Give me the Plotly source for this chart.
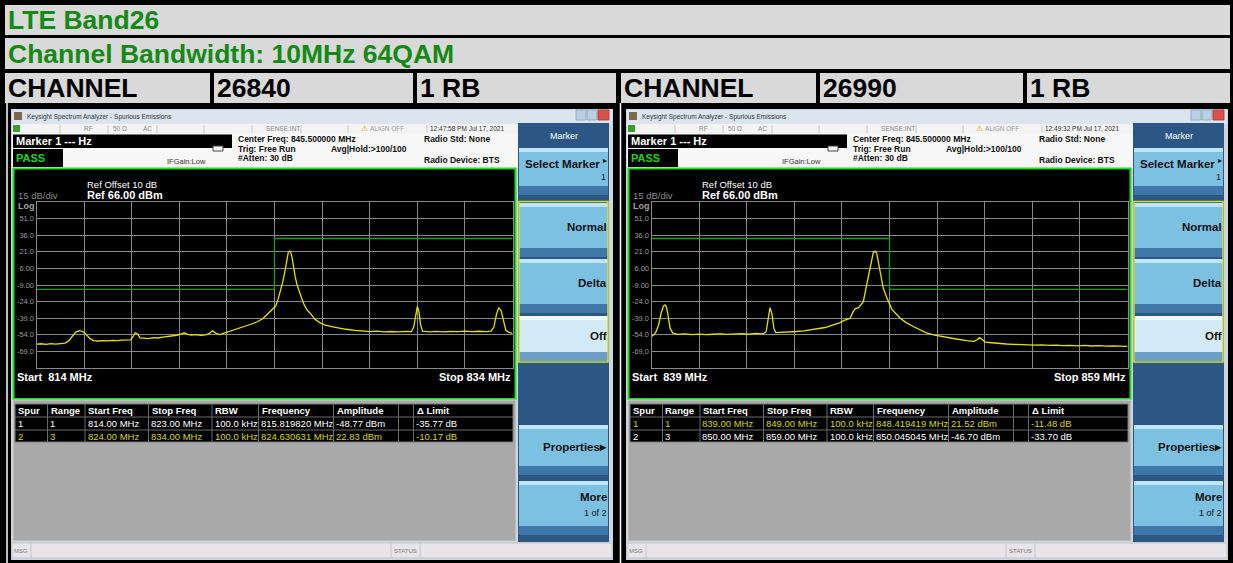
import plotly.graph_objects as go

# ---------------- data ----------------
title_text = "LTE Band26"
subtitle_text = "Channel Bandwidth: 10MHz 64QAM"
channel_label = "CHANNEL"
channels = ["26840", "26990"]
rb_label = "1 RB"
start_mhz = [814, 839]
stop_mhz = [834, 859]
timestamps = ["12:47:58 PM Jul 17, 2021", "12:49:32 PM Jul 17, 2021"]
center_freq_text = "Center Freq: 845.500000 MHz"
ref_level = 66
db_per_div = 15
ref_offset_db = 10
y_ticks = [51, 36, 21, 6, -9, -24, -39, -54, -69]
y_tick_labels = ["51.0", "36.0", "21.0", "6.00", "-9.00", "-24.0", "-39.0", "-54.0", "-69.0"]

left_freq = [814.0, 814.2, 814.4, 814.6, 814.8, 815.0, 815.2, 815.35, 815.5, 815.65, 815.8, 815.95,
             816.1, 816.25, 816.4, 816.6, 816.8, 817.0, 817.2, 817.4, 817.6, 817.8, 817.95, 818.05,
             818.15, 818.25, 818.35, 818.5, 818.7, 818.9, 819.1, 819.3, 819.5, 819.7, 819.9, 820.05,
             820.2, 820.35, 820.5, 820.7, 820.9, 821.1, 821.25, 821.4, 821.55, 821.7, 821.9, 822.1,
             822.3, 822.5, 822.7, 822.9, 823.1, 823.3, 823.5, 823.7, 823.9, 824.05, 824.15, 824.25,
             824.35, 824.45, 824.52, 824.58, 824.63, 824.68, 824.74, 824.8, 824.87, 824.93, 825.03,
             825.14, 825.25, 825.35, 825.5, 825.7, 825.9, 826.1, 826.4, 826.7, 827.0, 827.4, 827.7,
             828.0, 828.3, 828.6, 828.9, 829.2, 829.5, 829.75, 829.85, 829.93, 830.0, 830.07, 830.14,
             830.22, 830.5, 830.8, 831.1, 831.4, 831.7, 832.0, 832.3, 832.6, 832.9, 833.1, 833.22,
             833.32, 833.42, 833.52, 833.62, 833.72, 833.85, 834.0]
left_level = [-62.5, -62.1, -62.6, -62.0, -62.4, -61.8, -61.5, -59.5, -55.0, -51.5, -50.2, -51.0,
              -54.0, -57.5, -59.3, -59.6, -59.2, -59.5, -59.0, -59.3, -58.8, -59.0, -58.6, -56.0,
              -52.0, -53.5, -56.8, -57.0, -57.4, -56.6, -56.9, -56.2, -55.8, -55.2, -54.4, -53.5,
              -52.2, -53.6, -54.2, -53.8, -54.5, -54.0, -53.0, -50.5, -52.8, -53.8, -52.4, -50.8,
              -49.5, -48.3, -47.0, -45.5, -43.8, -42.0, -39.5, -35.5, -31.5, -28.0, -22.0, -15.0,
              -6.0, 5.0, 15.0, 20.5, 21.6, 20.8, 15.5, 6.0, -1.5, -7.5, -14.5,
              -21.0, -27.0, -31.0, -34.5, -40.0, -43.0, -45.0, -46.6, -48.0, -49.0, -50.0, -50.6,
              -51.2, -50.6, -51.4, -51.0, -51.3, -50.9, -51.2, -47.0, -36.0, -28.5, -33.0, -45.0,
              -50.8, -51.3, -50.9, -51.4, -51.0, -51.2, -50.7, -51.1, -50.8, -51.2, -50.6, -47.0,
              -36.0, -29.5, -32.0, -42.0, -50.0, -51.8, -52.5]

right_freq = [839.0, 839.1, 839.2, 839.3, 839.4, 839.5, 839.56, 839.63, 839.7, 839.78, 839.9, 840.1,
              840.4, 840.7, 841.0, 841.3, 841.6, 841.9, 842.2, 842.5, 842.8, 843.1, 843.4, 843.7,
              843.82, 843.9, 843.98, 844.06, 844.14, 844.22, 844.5, 844.8, 845.1, 845.4, 845.7,
              846.0, 846.3, 846.6, 846.9, 847.1, 847.35, 847.45, 847.55, 847.7, 847.9, 848.04,
              848.18, 848.32, 848.4, 848.46, 848.52, 848.6, 848.74, 848.88, 849.1, 849.45, 849.7,
              850.0, 850.3, 850.55, 850.9, 851.4, 851.8, 852.25, 852.55, 852.68, 852.78, 852.9,
              853.02, 853.3, 853.6, 853.9, 854.2, 854.5, 854.8, 855.1, 855.4, 855.7, 856.0, 856.3,
              856.6, 856.9, 857.2, 857.5, 857.8, 858.1, 858.4, 858.7, 859.0]
right_level = [-55.5, -54.0, -51.0, -45.0, -35.0, -28.0, -27.0, -29.0, -37.0, -48.0, -52.5, -53.6,
               -53.2, -53.8, -53.4, -53.9, -53.5, -53.1, -53.7, -53.3, -53.0, -53.5, -52.8, -53.1,
               -51.0, -40.0, -29.5, -35.0, -48.0, -52.0, -51.8, -51.4, -51.0, -50.4, -49.6,
               -48.8, -47.4, -45.3, -43.2, -41.0, -39.0, -34.0, -30.6, -29.4, -24.0, -9.0,
               6.0, 20.4, 21.6, 20.0, 13.0, 3.0, -12.0, -20.0, -31.0, -39.0, -43.0,
               -46.5, -49.8, -52.3, -54.2, -56.4, -57.8, -59.3, -60.0, -58.5, -56.6, -58.2,
               -60.6, -61.2, -61.9, -62.3, -62.6, -63.0, -62.8, -63.3, -63.1, -63.6, -63.4, -63.8,
               -63.5, -64.0, -63.6, -64.1, -63.8, -64.3, -64.0, -64.4, -64.5]

left_limit_freq = [814, 824, 824, 834]
left_limit_level = [-13, -13, 33, 33]
right_limit_freq = [839, 849, 849, 859]
right_limit_level = [33, 33, -13, -13]

table_header = ["Spur", "Range", "Start Freq", "Stop Freq", "RBW", "Frequency", "Amplitude", "", "\u0394 Limit"]
left_rows = [["1", "1", "814.00 MHz", "823.00 MHz", "100.0 kHz", "815.819820 MHz", "-48.77 dBm", "", "-35.77 dB"],
             ["2", "3", "824.00 MHz", "834.00 MHz", "100.0 kHz", "824.630631 MHz", "22.83 dBm", "", "-10.17 dB"]]
right_rows = [["1", "1", "839.00 MHz", "849.00 MHz", "100.0 kHz", "848.419419 MHz", "21.52 dBm", "", "-11.48 dB"],
              ["2", "3", "850.00 MHz", "859.00 MHz", "100.0 kHz", "850.045045 MHz", "-46.70 dBm", "", "-33.70 dB"]]
left_row_yellow = [False, True]
right_row_yellow = [True, False]

# ---------------- layout helpers ----------------
W, H = 1233, 563
FONT = "Liberation Sans, Arial, sans-serif"
shapes = []
annotations = []


def px(x):
    return x / W


def py(y):
    return 1 - y / H


def rect(x0, y0, x1, y1, fill, line=None, lw=0):
    shapes.append(dict(type="rect", xref="paper", yref="paper", layer="below",
                       x0=px(x0), x1=px(x1), y0=py(y1), y1=py(y0),
                       fillcolor=fill, line=dict(width=lw, color=line or fill)))


def hline(x0, x1, y, color, lw=1):
    shapes.append(dict(type="line", xref="paper", yref="paper", layer="below",
                       x0=px(x0), x1=px(x1), y0=py(y), y1=py(y), line=dict(width=lw, color=color)))


def vline(x, y0, y1, color, lw=1):
    shapes.append(dict(type="line", xref="paper", yref="paper", layer="below",
                       x0=px(x), x1=px(x), y0=py(y0), y1=py(y1), line=dict(width=lw, color=color)))


def text(x, y, s, size, color, bold=False, anchor="left", family=FONT):
    annotations.append(dict(xref="paper", yref="paper", x=px(x), y=py(y), text=("<b>%s</b>" % s) if bold else s,
                            showarrow=False, xanchor=anchor, yanchor="middle", borderpad=0,
                            font=dict(size=size, color=color, family=family)))


# ---------------- document table ----------------
GREY = "#d9d9d9"
GREEN_TXT = "#138a13"
HEAD = 26.5
rect(5, 5, 1230, 35, GREY)
rect(5, 38, 1230, 69, GREY)
text(7, 20, title_text, HEAD, GREEN_TXT, bold=True)
text(7, 54, subtitle_text, HEAD, GREEN_TXT, bold=True)
cells = [(5, 210), (214, 413), (417, 616), (621, 816), (820, 1023), (1027, 1230)]
cell_txt = [channel_label, channels[0], rb_label, channel_label, channels[1], rb_label]
for (a, b), t in zip(cells, cell_txt):
    rect(a, 73, b, 103, GREY)
    text(a + 2, 88.5, t, HEAD, "#000000", bold=True)
vline(7, 103, 563, "#ffffff", 1.5)
vline(620.5, 103, 563, "#ffffff", 1.5)

# ---------------- instrument screens ----------------
col_x = [15, 47.5, 85, 148.5, 212, 258.5, 333.5, 398.5, 413.5, 513]
soft = [("Select Marker", 148, 195, False), ("Normal", 203, 257, False), ("Delta", 259, 313, False),
        ("Off", 316, 361, True), ("Properties\u25b8", 425, 475, False), ("More", 481, 535, False)]

fig = go.Figure()


def screen(i, ox, freq, level, lim_f, lim_l, rows, yellow_rows):
    X = lambda v: v + ox
    # window
    rect(X(11), 109, X(613), 560, "#cfd6de")
    rect(X(12), 110, X(612), 124, "#dbe5ef")
    rect(X(14), 112, X(22), 120, "#7a6a4a")
    text(X(26), 117, "Keysight Spectrum Analyzer - Spurious Emissions", 6.5, "#333333")
    # window buttons
    rect(X(576), 110, X(586), 120, "#b9cfe4", "#8aa2bc", 0.8)
    rect(X(587), 110, X(597), 120, "#b9cfe4", "#8aa2bc", 0.8)
    rect(X(598), 110, X(609), 120, "#d9534a", "#a33", 0.8)
    # status row
    rect(X(12), 124, X(518), 134, "#f4f4f4")
    rect(X(13), 125, X(20), 132, "#3aa02a")
    for dx in [60, 108, 157, 204, 252, 301, 348, 427]:
        vline(X(dx), 125, 133, "#c8c8c8", 1)
    text(X(83), 129, "RF", 6.5, "#888888")
    text(X(112), 129, "50 \u03a9", 6.5, "#888888")
    text(X(142), 129, "AC", 6.5, "#888888")
    text(X(265), 129, "SENSE:INT", 6.5, "#888888")
    text(X(360), 129, "\u26a0", 8, "#c9a200", family="DejaVu Sans")
    text(X(369), 129, "ALIGN OFF", 6.5, "#999999")
    text(X(429), 129, timestamps[i], 6.5, "#333333")
    # info area
    rect(X(12), 134, X(518), 168, "#f7f7f7")
    rect(X(13), 134.5, X(232), 148, "#000000")
    text(X(15), 141, "Marker 1 --- Hz", 11, "#ffffff", bold=True)
    rect(X(13), 149, X(63), 167, "#000000")
    text(X(15), 158, "PASS", 11, "#19d419", bold=True)
    text(X(166), 161, "IFGain:Low", 7.5, "#333333")
    rect(X(213), 146, X(223), 151, "#f7f7f7", "#444444", 1)
    text(X(237), 139, center_freq_text, 8.5, "#111111", bold=True)
    text(X(237), 149, "Trig: Free Run", 8.5, "#111111", bold=True)
    text(X(237), 158.5, "#Atten: 30 dB", 8.5, "#111111", bold=True)
    text(X(330), 149, "Avg|Hold:>100/100", 8.5, "#111111", bold=True)
    text(X(423), 139, "Radio Std: None", 8.5, "#111111", bold=True)
    text(X(423), 160, "Radio Device: BTS", 8.5, "#111111", bold=True)
    # plot frame
    rect(X(13.5), 168.5, X(515.5), 399, "#000000", "#22dd22", 2)
    text(X(17), 196, "15 dB/div", 9.5, "#8a8a8a")
    text(X(86), 184, "Ref Offset %d dB" % ref_offset_db, 9.5, "#ffffff")
    text(X(86), 195, "Ref %.2f dBm" % ref_level, 11, "#ffffff", bold=True)
    text(X(17), 206, "Log", 9, "#a0a0a0", bold=True)
    text(X(16), 377, "Start\u00a0\u00a0%d MHz" % start_mhz[i], 11, "#ffffff", bold=True)
    text(X(512), 377, "Stop %d MHz" % stop_mhz[i], 11, "#ffffff", bold=True, anchor="right")
    # spur table
    rect(X(13), 400, X(516), 541, "#a9a9a9", "#cfcfcf", 1)
    rect(X(15), 404, X(513), 442, "#000000", "#7a7a7a", 1)
    hline(X(15), X(513), 417, "#6a6a6a")
    hline(X(15), X(513), 430, "#6a6a6a")
    for cx in col_x[1:-1]:
        vline(X(cx), 404, 442, "#6a6a6a")
    for c, h in enumerate(table_header):
        text(X(col_x[c] + 2), 410.5, h, 9.5, "#ffffff", bold=True)
    for r, row in enumerate(rows):
        colr = "#d6d600" if yellow_rows[r] else "#ffffff"
        for c, v in enumerate(row):
            text(X(col_x[c] + 1.5), 423.5 + 13 * r, v, 9.5, colr)
    # status bar
    rect(X(12), 543, X(612), 558, "#e7e5e9", "#c4c4c4", 1)
    vline(X(31), 543, 558, "#c4c4c4")
    vline(X(391), 543, 558, "#c4c4c4")
    vline(X(420), 543, 558, "#c4c4c4")
    text(X(13), 550.5, "MSG", 6, "#7a7a7a")
    text(X(393), 550.5, "STATUS", 6, "#7a7a7a")
    # softkey panel
    rect(X(518), 123, X(609), 542, "#2c5785")
    text(X(563.5), 136, "Marker", 9, "#ffffff", anchor="center")
    for lab, y0, y1, light in soft:
        body = "#d3ebf7" if light else "#7cc0e2"
        top = "#f0f9fd" if light else "#bfe4f5"
        bot = "#6d9fc6" if light else "#3f78a8"
        rect(X(519), y0, X(608), y1, body)
        rect(X(519), y0, X(608), y0 + 4, top)
        rect(X(519), y1 - 9, X(608), y1, bot)
        if lab == "Select Marker":
            text(X(600.5), 164, lab, 11.5, "#111111", bold=True, anchor="right")
            text(X(608), 160, "\u25b8", 8, "#111111", anchor="right", family="DejaVu Sans")
            text(X(606.5), 177, "1", 9, "#111111", anchor="right")
        elif lab == "More":
            text(X(607.5), 497, lab, 11.5, "#111111", bold=True, anchor="right")
            text(X(607.5), 513, "1 of 2", 9, "#111111", anchor="right")
        else:
            text(X(607.5), (y0 + y1) / 2 - 3, lab, 11.5, "#111111", bold=True, anchor="right")
    rect(X(519), 201.5, X(608), 362, "rgba(0,0,0,0)", "#d4df2c", 1.5)

    # axes / traces
    xa = "xaxis" if i == 0 else "xaxis2"
    ya = "yaxis" if i == 0 else "yaxis2"
    xr = "x" if i == 0 else "x2"
    yr = "y" if i == 0 else "y2"
    bottom = ref_level - 10 * db_per_div
    fig.add_trace(go.Scatter(x=lim_f, y=lim_l, mode="lines", xaxis=xr, yaxis=yr,
                             line=dict(color="#1aa01a", width=1.3), showlegend=False, hoverinfo="skip"))
    fig.add_trace(go.Scatter(x=freq, y=level, mode="lines", xaxis=xr, yaxis=yr,
                             line=dict(color="#e2e200", width=1.3), showlegend=False))
    grid = "#8a8a8a"
    fig.update_layout(**{
        xa: dict(domain=[px(X(36.5)), px(X(512.5))], range=[start_mhz[i], stop_mhz[i]],
                 tick0=start_mhz[i], dtick=(stop_mhz[i] - start_mhz[i]) / 10,
                 showgrid=True, gridcolor=grid, gridwidth=1, showticklabels=False, zeroline=False,
                 showline=True, linecolor=grid, mirror=True, anchor=yr),
        ya: dict(domain=[py(368), py(202)], range=[bottom, ref_level],
                 tickmode="array", tickvals=[bottom] + y_ticks + [ref_level],
                 ticktext=[""] + y_tick_labels + [""],
                 tickfont=dict(size=7.5, color="#9a9a9a", family=FONT),
                 showgrid=True, gridcolor=grid, gridwidth=1, zeroline=False, ticks="",
                 showline=True, linecolor=grid, mirror=True, anchor=xr),
    })


screen(0, 0, left_freq, left_level, left_limit_freq, left_limit_level, left_rows, left_row_yellow)
screen(1, 615, right_freq, right_level, right_limit_freq, right_limit_level, right_rows, right_row_yellow)

fig.update_layout(width=W, height=H, autosize=False, margin=dict(l=0, r=0, t=0, b=0),
                  paper_bgcolor="#000000", plot_bgcolor="#000000",
                  shapes=shapes, annotations=annotations, showlegend=False)
fig.write_html("out.html", config={"displayModeBar": False},
               post_script="document.body.style.margin='0px';document.body.style.overflow='hidden';")
